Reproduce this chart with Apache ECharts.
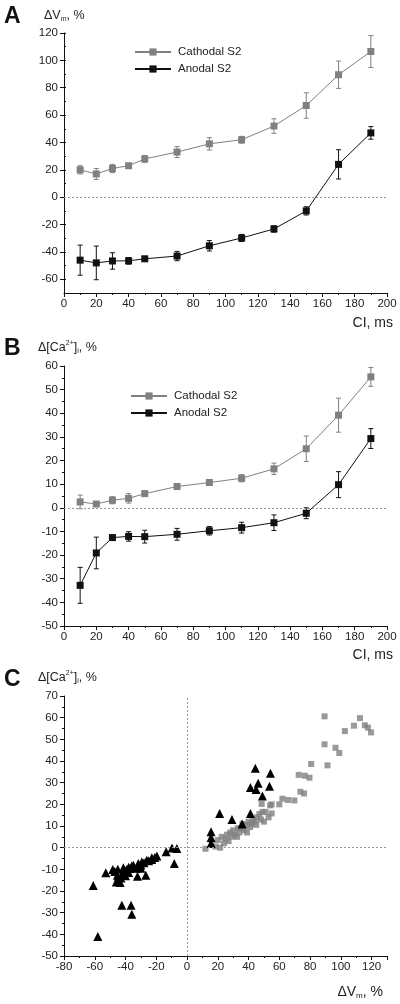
<!DOCTYPE html>
<html>
<head>
<meta charset="utf-8">
<script src="https://cdn.jsdelivr.net/npm/echarts@6/dist/echarts.min.js"></script>
<style>html,body{margin:0;padding:0;background:#fff}#c{width:400px;height:1004px}</style>
</head>
<body>
<div id="c"></div>
<script>
// ---- data ----
const ciValues = [10, 20, 30, 40, 50, 70, 90, 110, 130, 150, 170, 190];
const vmCathodal = [20, 17, 21, 23, 28, 33, 39, 42, 52, 67, 89.5, 106.5];
const vmCathodalErr = [3, 4, 3, 1.5, 2.5, 4, 4.5, 2.5, 5.3, 9.3, 10, 11.7];
const vmAnodal = [-46, -48, -46.6, -46.5, -45, -43, -35.5, -29.8, -23.2, -10, 24, 47];
const vmAnodalErr = [11, 12.3, 6, 2.4, 1.5, 3.4, 3.8, 2.6, 2.3, 3, 10.7, 4.6];
const caCathodal = [2.5, 1.6, 3.2, 4, 6, 9, 10.7, 12.5, 16.5, 25, 39.2, 55.4];
const caCathodalErr = [2.9, 1, 1.5, 2, 1, 1, 1, 1.5, 2.4, 5.4, 7.2, 4];
const caAnodal = [-32.8, -19.1, -12.6, -12.1, -12.2, -11.2, -9.7, -8.4, -6.3, -2.3, 9.8, 29.3];
const caAnodalErr = [7.6, 6.7, 1, 2, 2.7, 2.5, 1.8, 2.3, 3.3, 2.3, 5.5, 4.2];

const scatterCathodal = [[12,-0.5],[16,2],[18.5,0.5],[20,3.5],[21.5,0],[22.5,5],[24,2],[25,4],[26,6],[27,3],[28,7],[29,5],[30,8],[31,6],[32.5,5],[33,9],[34,7],[35,9],[36,11],[37,8],[38,10.5],[39,7],[40,12],[41,9.5],[42,11],[43,13],[44,12],[45,10.5],[45.5,14],[47,15.5],[48,13],[48.5,20.2],[49,16.5],[50,12],[51,16.5],[53,14],[54,19.5],[55,15.8],[55,20],[60,20],[62,22.6],[65.7,22],[69.8,21.8],[72.6,33.6],[73.7,25.8],[76.1,25],[76.5,33.2],[79.6,32.3],[80.7,38.6],[89.4,47.7],[89.4,60.6],[91.3,38],[96.5,46.1],[99,43.7],[102.6,53.8],[108.5,56.3],[112.4,59.8],[115.6,56.5],[117.6,55.4],[119.6,53.2]];
const scatterAnodal = [[-61,-17.5],[-58,-41],[-52.8,-11.6],[-48.3,-10.1],[-47,-11],[-46,-15.8],[-45.3,-12.7],[-45,-10],[-44.6,-13.5],[-43.5,-16.1],[-43,-14],[-42.4,-26.6],[-42,-12],[-41.4,-9.3],[-40,-11],[-40,-13],[-39.2,-10.1],[-38,-9],[-38,-11.5],[-37,-9.6],[-36.4,-26.6],[-36,-8.5],[-35.9,-30.7],[-34.9,-8.1],[-33,-9.5],[-32.2,-13.2],[-31.7,-7.3],[-30,-8],[-30,-9.5],[-29.4,-6.6],[-28,-7],[-26.8,-12.7],[-26.2,-5.8],[-25,-6],[-23,-5.5],[-22.9,-4.7],[-21,-4.5],[-19.6,-3.8],[-13.6,-1.9],[-9.8,-0.1],[-8.3,-7.3],[-6.6,-0.4],[15.6,1.9],[15.6,4.7],[15.6,7.3],[21.2,15.8],[29.2,13],[35.8,10.9],[41.2,15.8],[41.2,27.8],[44.4,36.6],[44.9,26.9],[46.2,29.7],[49,23.8],[53.6,28.4],[54.2,34.3]];

const yTicksA = [-60, -40, -20, 0, 20, 40, 60, 80, 100, 120];

// ---- styles ----
const FONT = '"Liberation Sans", Arial, sans-serif';
const GRAY = '#808080';
const BLACK = '#111';
const TXT = '#222';

const chart = echarts.init(document.getElementById('c'), null, {renderer: 'canvas'});

const axisLine = {show: true, onZero: false, lineStyle: {color: '#111', width: 1}};
const labelStyle = {fontSize: 11.5, color: TXT, fontFamily: FONT};

function xAxisCI(gi) {
  return {type: 'value', gridIndex: gi, min: 0, max: 200, interval: 20,
    axisLine, axisTick: {show: true, length: 4, lineStyle: {color: '#111'}},
    minorTick: {show: true, splitNumber: 2, length: 2, lineStyle: {color: '#111'}},
    axisLabel: Object.assign({margin: 5}, labelStyle),
    splitLine: {show: false}, minorSplitLine: {show: false}};
}

function errSeries(xi, yi, ys, errs, color) {
  return {
    type: 'custom', xAxisIndex: xi, yAxisIndex: yi, silent: true, z: 1,
    data: ciValues.map((c, i) => [c, ys[i], errs[i]]),
    encode: {x: 0, y: 1},
    renderItem: function (params, api) {
      const x = api.value(0), y = api.value(1), e = api.value(2);
      const t = api.coord([x, y + e]);
      const b = api.coord([x, y - e]);
      const w = 2.5;
      const st = {stroke: color, lineWidth: 1};
      return {type: 'group', children: [
        {type: 'line', shape: {x1: t[0], y1: t[1], x2: b[0], y2: b[1]}, style: st},
        {type: 'line', shape: {x1: t[0] - w, y1: t[1], x2: t[0] + w, y2: t[1]}, style: st},
        {type: 'line', shape: {x1: b[0] - w, y1: b[1], x2: b[0] + w, y2: b[1]}, style: st}
      ]};
    }
  };
}

function lineSeries(name, xi, yi, ys, color, withZero) {
  const s = {
    type: 'line', name, xAxisIndex: xi, yAxisIndex: yi, z: 3,
    data: ciValues.map((c, i) => [c, ys[i]]),
    symbol: 'rect', symbolSize: 7, showSymbol: true,
    lineStyle: {color, width: 1}, itemStyle: {color},
    emphasis: {disabled: true}
  };
  if (withZero) {
    s.markLine = {silent: true, symbol: ['none', 'none'], label: {show: false},
      lineStyle: {color: '#999', type: [2, 2], width: 1},
      data: [{yAxis: 0}]};
  }
  return s;
}

const zeroLine = {color: '#999', type: [2, 2], width: 1};

const option = {
  animation: false,
  backgroundColor: '#fff',
  textStyle: {fontFamily: FONT},
  grid: [
    {left: 64, right: 13, top: 33, height: 260},
    {left: 64, right: 13, top: 366, height: 260},
    {left: 64, right: 13, top: 696, height: 260}
  ],
  legend: [
    {left: 134, top: 46, padding: 0, orient: 'vertical', itemWidth: 36, itemHeight: 9, itemGap: 5,
      data: ['Cathodal S2', 'Anodal S2'], selectedMode: false,
      textStyle: {fontSize: 11.5, color: TXT, fontFamily: FONT, padding: [0, 0, 0, 2]}},
    {left: 130, top: 390, padding: 0, orient: 'vertical', itemWidth: 36, itemHeight: 9, itemGap: 5,
      data: ['Cathodal S2', 'Anodal S2'], selectedMode: false,
      textStyle: {fontSize: 11.5, color: TXT, fontFamily: FONT, padding: [0, 0, 0, 2]}}
  ],
  xAxis: [
    xAxisCI(0),
    xAxisCI(1),
    {type: 'value', gridIndex: 2, min: -80, max: 130, interval: 20,
      axisLine, axisTick: {show: true, length: 4, lineStyle: {color: '#111'}},
      minorTick: {show: true, splitNumber: 2, length: 2, lineStyle: {color: '#111'}},
      axisLabel: Object.assign({margin: 5, formatter: v => (v > 120 ? '' : String(v))}, labelStyle),
      splitLine: {show: false}, minorSplitLine: {show: false}}
  ],
  yAxis: [
    {type: 'value', gridIndex: 0, min: -70, max: 120, interval: 10,
      axisLine, axisTick: {show: true, length: 4, customValues: yTicksA, lineStyle: {color: '#111'}},
      axisLabel: Object.assign({margin: 6, customValues: yTicksA}, labelStyle),
      splitLine: {show: false}},
    {type: 'value', gridIndex: 0, min: -70, max: 120, interval: 10,
      axisLine: {show: false}, axisTick: {show: true, length: 2, lineStyle: {color: '#111'}},
      axisLabel: {show: false}, splitLine: {show: false}},
    {type: 'value', gridIndex: 1, min: -50, max: 60, interval: 10,
      axisLine, axisTick: {show: true, length: 4, lineStyle: {color: '#111'}},
      minorTick: {show: true, splitNumber: 2, length: 2, lineStyle: {color: '#111'}},
      axisLabel: Object.assign({margin: 6}, labelStyle),
      splitLine: {show: false}, minorSplitLine: {show: false}},
    {type: 'value', gridIndex: 2, min: -50, max: 70, interval: 10,
      axisLine, axisTick: {show: true, length: 4, lineStyle: {color: '#111'}},
      minorTick: {show: true, splitNumber: 2, length: 2, lineStyle: {color: '#111'}},
      axisLabel: Object.assign({margin: 6}, labelStyle),
      splitLine: {show: false}, minorSplitLine: {show: false}}
  ],
  series: [
    errSeries(0, 0, vmCathodal, vmCathodalErr, GRAY),
    errSeries(0, 0, vmAnodal, vmAnodalErr, BLACK),
    lineSeries('Cathodal S2', 0, 0, vmCathodal, GRAY, true),
    lineSeries('Anodal S2', 0, 0, vmAnodal, BLACK, false),
    errSeries(1, 2, caCathodal, caCathodalErr, GRAY),
    errSeries(1, 2, caAnodal, caAnodalErr, BLACK),
    lineSeries('Cathodal S2', 1, 2, caCathodal, GRAY, true),
    lineSeries('Anodal S2', 1, 2, caAnodal, BLACK, false),
    {type: 'scatter', name: 'C cathodal', xAxisIndex: 2, yAxisIndex: 3, z: 2,
      data: scatterCathodal, symbol: 'rect', symbolSize: 6, itemStyle: {color: GRAY},
      emphasis: {disabled: true},
      markLine: {silent: true, symbol: ['none', 'none'], label: {show: false}, lineStyle: zeroLine,
        data: [{xAxis: 0}, {yAxis: 0}]}},
    {type: 'scatter', name: 'C anodal', xAxisIndex: 2, yAxisIndex: 3, z: 3,
      data: scatterAnodal, symbol: 'triangle', symbolSize: 9, itemStyle: {color: '#000', opacity: 1},
      emphasis: {disabled: true}}
  ],
  graphic: [
    {type: 'text', left: 4, top: 5, style: {text: 'A', font: 'bold 23px ' + FONT, fill: '#111'}},
    {type: 'text', left: 4, top: 337, style: {text: 'B', font: 'bold 23px ' + FONT, fill: '#111'}},
    {type: 'text', left: 4, top: 668, style: {text: 'C', font: 'bold 23px ' + FONT, fill: '#111'}},
    {type: 'text', left: 44, top: 9, style: {
      text: '{a|ΔV}{s|m}{a|, %}',
      rich: {a: {fontSize: 12.5, fontFamily: FONT, fill: TXT, lineHeight: 15, verticalAlign: 'middle'},
             s: {fontSize: 7, fontFamily: FONT, fill: TXT, lineHeight: 7, verticalAlign: 'bottom'}}}},
    {type: 'text', left: 38, top: 340, style: {
      text: '{a|Δ[Ca}{p|2+}{a|]}{s|i}{a|, %}',
      rich: {a: {fontSize: 12.5, fontFamily: FONT, fill: TXT, lineHeight: 15, verticalAlign: 'middle'},
             p: {fontSize: 7, fontFamily: FONT, fill: TXT, lineHeight: 7, verticalAlign: 'top'},
             s: {fontSize: 7, fontFamily: FONT, fill: TXT, lineHeight: 7, verticalAlign: 'bottom'}}}},
    {type: 'text', left: 38, top: 670, style: {
      text: '{a|Δ[Ca}{p|2+}{a|]}{s|i}{a|, %}',
      rich: {a: {fontSize: 12.5, fontFamily: FONT, fill: TXT, lineHeight: 15, verticalAlign: 'middle'},
             p: {fontSize: 7, fontFamily: FONT, fill: TXT, lineHeight: 7, verticalAlign: 'top'},
             s: {fontSize: 7, fontFamily: FONT, fill: TXT, lineHeight: 7, verticalAlign: 'bottom'}}}},
    {type: 'text', right: 7, top: 316, style: {text: 'CI, ms', font: '14px ' + FONT, fill: TXT}},
    {type: 'text', right: 7, top: 648, style: {text: 'CI, ms', font: '14px ' + FONT, fill: TXT}},
    {type: 'text', right: 17, top: 985, style: {
      text: '{a|ΔV}{s|m}{a|, %}',
      rich: {a: {fontSize: 14, fontFamily: FONT, fill: TXT, lineHeight: 16, verticalAlign: 'middle'},
             s: {fontSize: 8, fontFamily: FONT, fill: TXT, lineHeight: 8, verticalAlign: 'bottom'}}}}
  ]
};
chart.setOption(option);
</script>
</body>
</html>
